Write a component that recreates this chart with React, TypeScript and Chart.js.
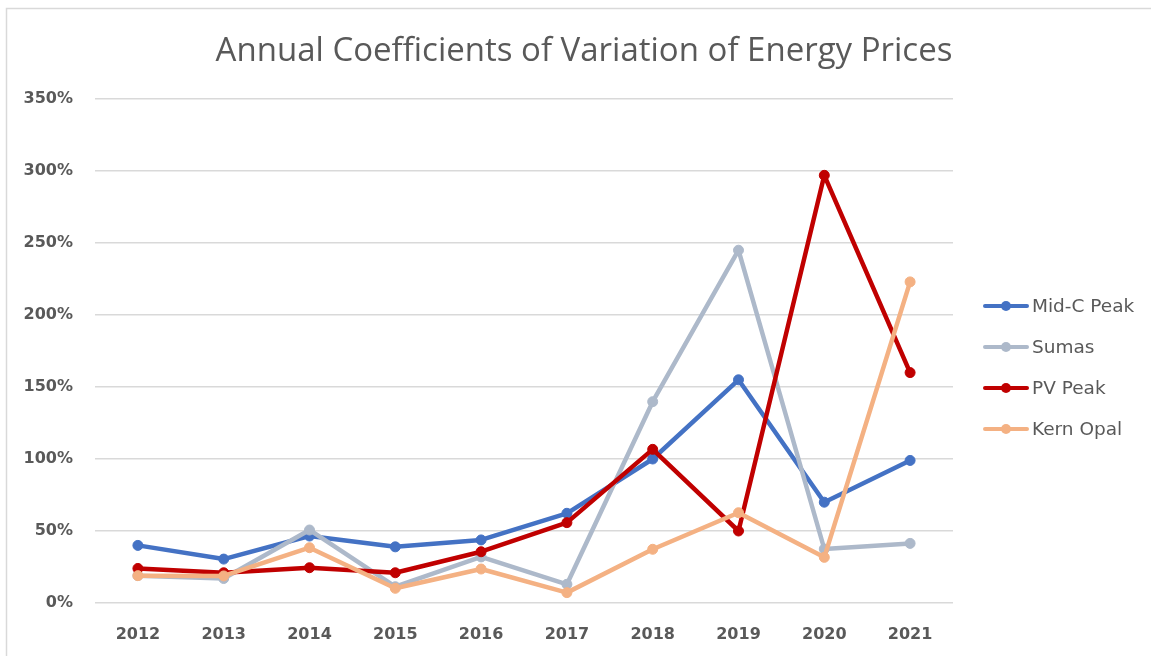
import React, { useEffect, useRef } from "react";
import { Chart, registerables } from "chart.js";

Chart.register(...registerables);

const TITLE = "Annual Coefficients of Variation of Energy Prices";
const years = ["2012", "2013", "2014", "2015", "2016", "2017", "2018", "2019", "2020", "2021"];
const midCPeak = [40, 30.5, 46.5, 39, 43.8, 62.3, 100, 155, 70, 99];
const sumas = [19, 17, 50.7, 11.3, 32, 13, 139.8, 245, 37.5, 41.4];
const pvPeak = [24, 21, 24.5, 21, 35.6, 55.8, 106.7, 50, 297, 160];
const kernOpal = [19, 18.8, 38.4, 10.2, 23.6, 7.2, 37.3, 62.7, 31.7, 223];
const seriesNames = ["Mid-C Peak", "Sumas", "PV Peak", "Kern Opal"];
const seriesColors = ["#4472C4", "#ADB9CA", "#C00000", "#F4B183"];
const yMax = 350;
const yStep = 50;

const TEXT = "#595959";
const GRID = "#d9d9d9";

export default function App() {
  const ref = useRef<HTMLCanvasElement | null>(null);

  useEffect(() => {
    if (!ref.current) return;
    const values = [midCPeak, sumas, pvPeak, kernOpal];

    const decor = {
      id: "decor",
      afterDraw(chart: any) {
        const ctx = chart.ctx;
        const area = chart.chartArea;
        ctx.save();
        // outer frame
        ctx.strokeStyle = "#d9d9d9";
        ctx.lineWidth = 1.5;
        ctx.beginPath();
        ctx.moveTo(6.5, 656);
        ctx.lineTo(6.5, 8.5);
        ctx.lineTo(1151, 8.5);
        ctx.stroke();
        // title
        ctx.fillStyle = TEXT;
        ctx.font = '400 33px "Open Sans"';
        ctx.textAlign = "center";
        ctx.textBaseline = "alphabetic";
        ctx.fillText(TITLE, 584, 61);
        // legend
        const lx = area.right + 32;
        chart.data.datasets.forEach((ds: any, i: number) => {
          const y = 306 + i * 41;
          ctx.strokeStyle = ds.borderColor;
          ctx.lineWidth = 4;
          ctx.lineCap = "round";
          ctx.beginPath();
          ctx.moveTo(lx, y);
          ctx.lineTo(lx + 42, y);
          ctx.stroke();
          ctx.fillStyle = ds.borderColor;
          ctx.beginPath();
          ctx.arc(lx + 21, y, 5, 0, Math.PI * 2);
          ctx.fill();
          ctx.fillStyle = TEXT;
          ctx.font = '18.5px "DejaVu Sans"';
          ctx.textAlign = "left";
          ctx.textBaseline = "middle";
          ctx.fillText(ds.label, lx + 47, y + 1);
        });
        ctx.restore();
      },
    };

    const chart = new Chart(ref.current, {
      type: "line",
      data: {
        labels: years,
        datasets: seriesNames.map((name, i) => ({
          label: name,
          data: values[i],
          borderColor: seriesColors[i],
          backgroundColor: seriesColors[i],
          pointBackgroundColor: seriesColors[i],
          pointBorderColor: seriesColors[i],
          pointRadius: 5,
          pointBorderWidth: 1,
          borderWidth: 4.5,
          borderCapStyle: "round",
          borderJoinStyle: "round",
          tension: 0,
          fill: false,
          order: seriesNames.length - i,
        })),
      },
      options: {
        responsive: false,
        animation: false,
        layout: { padding: { left: 0, top: 99, right: 198, bottom: 0 } },
        plugins: {
          legend: { display: false },
          title: { display: false },
          tooltip: { enabled: false },
        },
        scales: {
          x: {
            offset: true,
            grid: { display: false, drawTicks: false },
            border: { display: false },
            ticks: {
              color: TEXT,
              font: { family: "DejaVu Sans", weight: "bold", size: 16 },
              padding: 22,
              maxRotation: 0,
            },
            afterFit: (s: any) => {
              s.height = 53;
            },
          },
          y: {
            min: 0,
            max: yMax,
            grid: { color: GRID, lineWidth: 1.5, drawTicks: false },
            border: { display: false },
            ticks: {
              stepSize: yStep,
              color: TEXT,
              font: { family: "DejaVu Sans", weight: "bold", size: 16 },
              padding: 22,
              callback: (v: any) => v + "%",
            },
            afterFit: (s: any) => {
              s.width = 95;
            },
          },
        },
      },
      plugins: [decor],
    } as any);

    return () => chart.destroy();
  }, []);

  return (
    <div style={{ position: "fixed", left: 0, top: 0, width: 1151, height: 656, background: "#fff" }}>
      <canvas ref={ref} width={1151} height={656} style={{ display: "block", width: 1151, height: 656 }} />
    </div>
  );
}
